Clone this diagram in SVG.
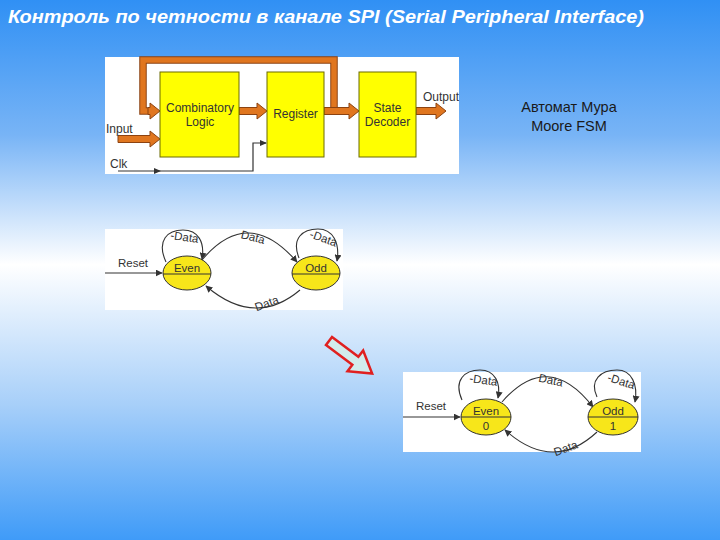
<svg xmlns="http://www.w3.org/2000/svg" width="720" height="540" viewBox="0 0 720 540">
<defs>
<linearGradient id="bg" x1="0" y1="0" x2="0" y2="1">
<stop offset="0" stop-color="#3090f4"/>
<stop offset="0.25" stop-color="#78b4f6"/>
<stop offset="0.49" stop-color="#ffffff"/>
<stop offset="0.75" stop-color="#a7cff9"/>
<stop offset="1" stop-color="#3f9bf8"/>
</linearGradient>
<marker id="ah" viewBox="0 0 10 10" refX="9" refY="5" markerWidth="7" markerHeight="7" markerUnits="userSpaceOnUse" orient="auto">
<path d="M0,0 L10,5 L0,10 z" fill="#333"/>
</marker>
<style>
.panel{fill:#ffffff}
.box{fill:#ffff00;stroke:#6b6b00;stroke-width:1}
.lbl{font-family:"Liberation Sans",Arial,sans-serif;font-size:12px;fill:#333}
.c{text-anchor:middle}
.orange{fill:#e0761f;stroke:#8c4210;stroke-width:1}
.bus-out{fill:none;stroke:#8c4210;stroke-width:7.5;stroke-linejoin:miter}
.bus-in{fill:none;stroke:#e0761f;stroke-width:5.5;stroke-linejoin:miter}
.wire{fill:none;stroke:#333;stroke-width:1.2}
.st{fill:#f7e61a;stroke:#333;stroke-width:1}
.fsm{font-family:"Liberation Sans",Arial,sans-serif;font-size:11.5px;fill:#333}
.tr{fill:none;stroke:#333;stroke-width:1.1;marker-end:url(#ah)}
</style>
</defs>
<rect x="0" y="0" width="720" height="540" fill="url(#bg)"/>
<text x="8" y="23" font-family="'Liberation Sans',Arial,sans-serif" font-size="18" font-weight="bold" font-style="italic" fill="#ffffff" textLength="636" lengthAdjust="spacingAndGlyphs">Контроль по четности в канале SPI (Serial Peripheral Interface)</text>

<g id="block-diagram">
<rect class="panel" x="105" y="57" width="354" height="117"/>
<g id="connectors-block">
<path class="bus-out" d="M334,111 V60 H143 V111 H150"/>
<path class="bus-in" d="M334,111 V60 H143 V111 H151"/>
<polygon class="orange" points="148,107.5 150,107.5 150,103 160,111 150,119 150,114.5 148,114.5"/>
<polygon class="orange" points="239,107.5 257,107.5 257,103 267,111 257,119 257,114.5 239,114.5"/>
<polygon class="orange" points="324,107.5 349,107.5 349,103 359,111 349,119 349,114.5 324,114.5"/>
<polygon class="orange" points="416,107.5 436,107.5 436,103 446,111 436,119 436,114.5 416,114.5"/>
<polygon class="orange" points="118,135.5 150,135.5 150,131 160,139 150,147 150,142.5 118,142.5"/>
<path class="wire" d="M118,171 H253 V143 H266"/>
<path d="M154,168 L161,171 L154,174 z" fill="#333"/>
<path d="M260,140 L267,143 L260,146 z" fill="#333"/>
</g>
<g id="comb-logic">
<rect class="box" x="160" y="72" width="79" height="85"/>
<text class="lbl c" x="200" y="112">Combinatory</text>
<text class="lbl c" x="200" y="126">Logic</text>
</g>
<g id="register">
<rect class="box" x="267" y="72" width="57" height="85"/>
<text class="lbl c" x="295.5" y="118">Register</text>
</g>
<g id="state-decoder">
<rect class="box" x="359" y="72" width="57" height="85"/>
<text class="lbl c" x="387.5" y="112">State</text>
<text class="lbl c" x="387.5" y="126">Decoder</text>
</g>
<text class="lbl" x="423" y="101">Output</text>
<text class="lbl" x="106" y="133">Input</text>
<text class="lbl" x="110" y="168">Clk</text>
</g>

<g id="moore-label" font-family="'Liberation Sans',Arial,sans-serif" font-size="14.5" fill="#1a1a1a" text-anchor="middle">
<text x="569" y="112">Автомат Мура</text>
<text x="569" y="131">Moore FSM</text>
</g>

<g id="fsm1">
<rect class="panel" x="105" y="229" width="238" height="81"/>
<g id="fsm1-connectors">
<path class="tr" d="M105,273 H162"/>
<path class="tr" d="M166,262 C156,240 168,230 183,230 C198,230 205,242 202,259"/>
<path class="tr" d="M202,260 Q248,205 297,262"/>
<path class="tr" d="M299,258 C291,238 303,229 318,229 C333,229 340,243 337,261"/>
<path class="tr" d="M300,290 Q255,328 206,286"/>
</g>
<g id="fsm1-even">
<ellipse class="st" cx="187" cy="273" rx="24" ry="17"/>
<line x1="163" y1="274" x2="211" y2="274" stroke="#333" stroke-width="1"/>
<text class="fsm c" x="187" y="272">Even</text>
</g>
<g id="fsm1-odd">
<ellipse class="st" cx="316" cy="273" rx="24" ry="17"/>
<line x1="292" y1="274" x2="340" y2="274" stroke="#333" stroke-width="1"/>
<text class="fsm c" x="316" y="272">Odd</text>
</g>
<text class="fsm c" x="133" y="267">Reset</text>
<text class="fsm c" transform="translate(184,241) rotate(8)">-Data</text>
<text class="fsm c" transform="translate(252,241) rotate(14)">Data</text>
<text class="fsm c" transform="translate(322,242) rotate(20)">-Data</text>
<text class="fsm c" transform="translate(268,307) rotate(-20)">Data</text>
</g>

<g id="transform-arrow">
<polygon transform="translate(329,341) rotate(37)" points="0,-5 33,-5 33,-13 54,0 33,13 33,5 0,5" fill="#d2ecec" stroke="#e02020" stroke-width="2.5" stroke-linejoin="miter"/>
</g>

<g id="fsm2">
<rect class="panel" x="403" y="372" width="238" height="80"/>
<g id="fsm2-connectors">
<path class="tr" d="M403,417 H460"/>
<path class="tr" d="M462,400 C453,380 465,370 480,370 C495,370 501,383 498,398"/>
<path class="tr" d="M502,402 Q548,349 593,407"/>
<path class="tr" d="M597,397 C589,380 601,370 617,370 C632,370 638,385 635,402"/>
<path class="tr" d="M597,432 Q553,473 505,430"/>
</g>
<g id="fsm2-even">
<ellipse class="st" cx="486" cy="417" rx="25" ry="18"/>
<line x1="461" y1="417" x2="511" y2="417" stroke="#333" stroke-width="1"/>
<text class="fsm c" x="486" y="415">Even</text>
<text class="fsm c" x="486" y="430">0</text>
</g>
<g id="fsm2-odd">
<ellipse class="st" cx="613" cy="417" rx="25" ry="18"/>
<line x1="588" y1="417" x2="638" y2="417" stroke="#333" stroke-width="1"/>
<text class="fsm c" x="613" y="415">Odd</text>
<text class="fsm c" x="613" y="430">1</text>
</g>
<text class="fsm c" x="431" y="410">Reset</text>
<text class="fsm c" transform="translate(483,384) rotate(8)">-Data</text>
<text class="fsm c" transform="translate(550,384) rotate(12)">Data</text>
<text class="fsm c" transform="translate(620,385) rotate(18)">-Data</text>
<text class="fsm c" transform="translate(567,452) rotate(-20)">Data</text>
</g>
</svg>
